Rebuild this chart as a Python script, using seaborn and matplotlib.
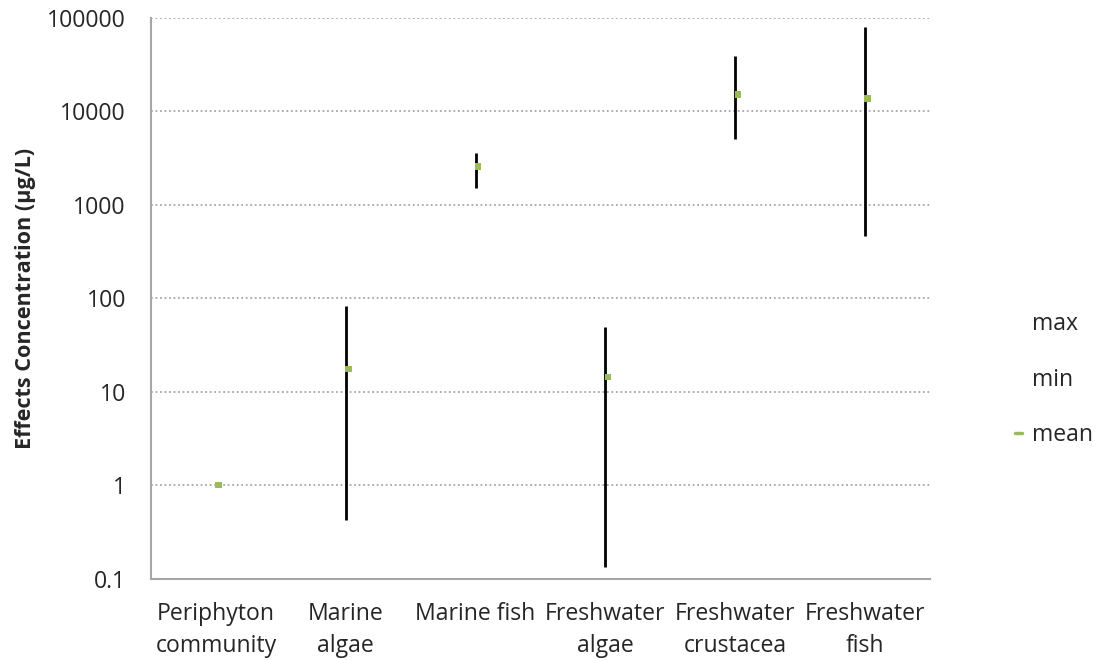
import numpy as np
import pandas as pd
import matplotlib
matplotlib.use("Agg")
import matplotlib.pyplot as plt
from matplotlib.lines import Line2D
import seaborn as sns

categories = ["Periphyton\ncommunity", "Marine\nalgae", "Marine fish",
              "Freshwater\nalgae", "Freshwater\ncrustacea", "Freshwater\nfish"]
max_vals = [1.0, 82, 3600, 49, 38500, 80000]
min_vals = [1.0, 0.42, 1500, 0.135, 5100, 460]
mean_vals = [1.0, 17.5, 2550, 14.3, 15000, 13600]
y_ticks = [0.1, 1, 10, 100, 1000, 10000, 100000]
y_tick_labels = ["0.1", "1", "10", "100", "1000", "10000", "100000"]

sns.set_theme(style="white")
plt.rcParams['font.family'] = ['Open Sans', 'DejaVu Sans']

df = pd.DataFrame({"category": categories, "max": max_vals,
                   "min": min_vals, "mean": mean_vals})
df["pos"] = np.arange(len(categories))

fig = plt.figure(figsize=(10.97, 6.6), dpi=100)
ax = fig.add_axes([0.1376, 0.1232, 0.8478 - 0.1376, 0.9732 - 0.1232])

ax.set_yscale("log")
ax.set_ylim(0.1, 100000)
ax.set_xlim(-0.5, len(categories) - 0.5)

# grid
for t in y_ticks[1:]:
    ax.axhline(t, color="#A6A6A6", linestyle=(0, (1, 1.5)), linewidth=1.3, zorder=0)

# high-low lines
ax.vlines(df["pos"], df["min"], df["max"], color="black", linewidth=2.0, zorder=2)

# mean markers
sns.scatterplot(data=df, x=df["pos"] + 0.02, y="mean", marker="s", s=22,
                color="#9BBB59", edgecolor="none", ax=ax, zorder=3, legend=False)

ax.set_yticks(y_ticks)
ax.set_yticklabels(y_tick_labels)
ax.yaxis.set_minor_locator(matplotlib.ticker.NullLocator())
ax.set_xticks(np.arange(-0.5, len(categories) + 0.5, 1))
ax.set_xticklabels([])
ax.set_xticks(df["pos"], minor=True)
ax.set_xticklabels(categories, minor=True)
ax.tick_params(axis="x", which="major", length=8, width=1.5, color="#A6A6A6", direction="out")
ax.tick_params(axis="x", which="minor", length=0, pad=17, labelsize=16.6)
ax.tick_params(axis="y", which="major", length=8, width=1.5, color="#A6A6A6",
               direction="out", labelsize=16.6, pad=10)
for lab in ax.get_xticklabels(minor=True):
    lab.set_linespacing(1.45)

for s in ["top", "right"]:
    ax.spines[s].set_visible(False)
for s in ["left", "bottom"]:
    ax.spines[s].set_color("#A6A6A6")
    ax.spines[s].set_linewidth(1.5)

ax.set_xlabel("")
ax.set_ylabel("Effects Concentration (µg/L)", fontsize=15.6, fontweight="bold", labelpad=8)

handles = [Line2D([], [], linestyle="none", marker=None),
           Line2D([], [], linestyle="none", marker=None),
           Line2D([], [], color="#9BBB59", linewidth=2.5)]
fig.legend(handles, ["max", "min", "mean"], loc="center left",
           bbox_to_anchor=(0.906, 0.425), frameon=False, fontsize=16.6,
           handlelength=0.3, handletextpad=0.45, labelspacing=1.35)

fig.savefig("out.png", dpi=100)
